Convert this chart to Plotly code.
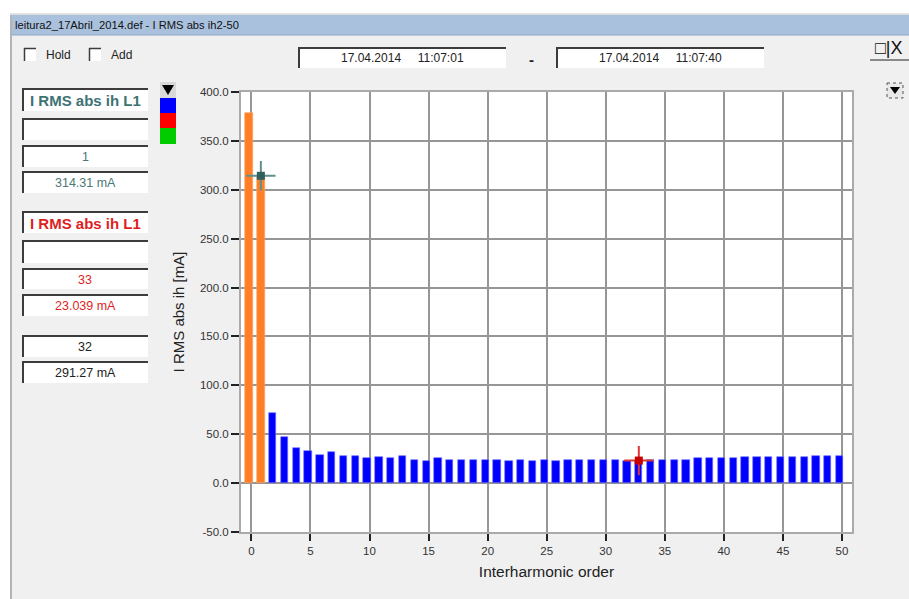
import plotly.graph_objects as go

# ---------------- data ----------------
orders = list(range(0, 51))
values = [379.0, 314.31, 72.0, 47.5, 36.0, 33.0, 29.0, 32.0, 27.8, 27.8,
          25.4, 26.5, 25.5, 27.5, 24.0, 22.7, 25.5, 24.0, 24.0, 24.0,
          24.0, 24.0, 22.7, 24.0, 22.7, 24.0, 22.7, 24.0, 24.0, 24.0,
          24.0, 24.0, 22.7, 23.039, 23.4, 24.0, 24.0, 24.0, 25.5, 25.5,
          25.5, 25.5, 26.9, 26.9, 26.9, 26.9, 26.9, 26.9, 27.9, 27.9, 27.9]
highlight_orders = [0, 1]
cursor1_order, cursor1_value = 1, 314.31
cursor2_order, cursor2_value = 33, 23.039
ref_order, ref_value = 32, 291.27
y_ticks = [-50, 0, 50, 100, 150, 200, 250, 300, 350, 400]
x_ticks = list(range(0, 51, 5))
title_text = "leitura2_17Abril_2014.def - I RMS abs ih2-50"
date_from = "17.04.2014&nbsp;&nbsp;&nbsp;&nbsp;&nbsp;11:07:01"
date_to = "17.04.2014&nbsp;&nbsp;&nbsp;&nbsp;&nbsp;11:07:40"
channel_name = "I RMS abs ih L1"

# ---------------- layout helpers ----------------
W, H = 909, 599
L, R, T, B = 241, 852, 92, 532
BAR_SHIFT = -0.2


def X(px):
    return (px - L) / (R - L)


def Y(py):
    return (B - py) / (B - T)


shapes = []
annotations = []


def rect(x0, y0, x1, y1, fill, line=None, lw=0, dash=None, layer="below"):
    d = dict(type="rect", xref="paper", yref="paper",
             x0=X(x0), x1=X(x1), y0=Y(y0), y1=Y(y1),
             fillcolor=fill, layer=layer,
             line=dict(width=lw, color=line or "rgba(0,0,0,0)"))
    if dash:
        d["line"]["dash"] = dash
    shapes.append(d)


def line(x0, y0, x1, y1, color, lw=1, layer="above"):
    shapes.append(dict(type="line", xref="paper", yref="paper",
                       x0=X(x0), x1=X(x1), y0=Y(y0), y1=Y(y1),
                       layer=layer, line=dict(color=color, width=lw)))


def path(pts, fill, layer="above"):
    p = "M " + " L ".join(f"{X(a)},{Y(b)}" for a, b in pts) + " Z"
    shapes.append(dict(type="path", xref="paper", yref="paper", path=p,
                       fillcolor=fill, line=dict(width=0), layer=layer))


def text(x, y, s, size=11, color="#222", family="Liberation Sans, Arial",
         xanchor="center", bold=False):
    if bold:
        s = "<b>" + s + "</b>"
    annotations.append(dict(xref="paper", yref="paper", x=X(x), y=Y(y),
                            text=s, showarrow=False, xanchor=xanchor,
                            yanchor="middle",
                            font=dict(size=size, color=color, family=family)))


def sunken_box(x0, y0, x1, y1, s="", color="#222", size=12.5, bold=False):
    rect(x0, y0, x1, y1, "white")
    line(x0, y0 + 1, x1, y0 + 1, "#3c3c3c", 2, layer="below")
    line(x0 + 1, y0, x0 + 1, y1, "#3c3c3c", 2, layer="below")
    if s:
        text((x0 + x1) / 2, (y0 + y1) / 2 + 1, s, size=size, color=color, bold=bold)


# window chrome
rect(0, 0, W, 14, "white")
rect(0, 0, 10, H, "white")
line(10, 14, W, 14, "#c8c8c8", 1, layer="below")
rect(10, 15, W, 35, "#a9c1dd")
line(10, 35, W, 35, "#8fa6c2", 1, layer="below")
line(11, 15, 11, H, "#b4b4b4", 2, layer="below")
text(13, 25, title_text, size=11.2, color="#111",
     family="Liberation Sans, Arial", xanchor="left")

# checkboxes
for cx, lab in [(24, "Hold"), (89, "Add")]:
    rect(cx, 48, cx + 12, 61, "white")
    line(cx, 48.5, cx + 12, 48.5, "#3c3c3c", 1.5, layer="below")
    line(cx + 0.5, 48, cx + 0.5, 61, "#3c3c3c", 1.5, layer="below")
    text(cx + 20, 55, lab, size=12, color="#222", xanchor="left")

# date boxes
sunken_box(298, 47, 506, 68, date_from, size=12)
text(531, 59, "-", size=15, bold=True)
sunken_box(556, 47, 764, 68, date_to, size=12)

# top-right window buttons
text(889, 48, "\u25a1|X", size=18, color="#111")
line(870, 60, 909, 60, "#222", 1)
rect(887, 83, 903, 98, "#e8e8e8", line="#555", lw=1, dash="dot", layer="above")
path([(890, 87), (900, 87), (895, 94)], "black")

# left panel
teal = "#3d7373"
red = "#dd1f1f"
sunken_box(22, 88, 148, 111, channel_name, color=teal, size=15, bold=True)
sunken_box(22, 118, 148, 140)
sunken_box(22, 145, 148, 167, str(cursor1_order), color="#4a7878")
sunken_box(22, 171, 148, 193, f"{cursor1_value:.2f} mA", color="#4a7878")
sunken_box(22, 211, 148, 233, channel_name, color=red, size=15, bold=True)
sunken_box(22, 240, 148, 263)
sunken_box(22, 268, 148, 289, str(cursor2_order), color=red)
sunken_box(22, 294, 148, 316, f"{cursor2_value:.3f} mA", color=red)
sunken_box(22, 335, 148, 357, str(ref_order), color="#222")
sunken_box(22, 361, 148, 383, f"{ref_value:.2f} mA", color="#222")

# color swatches
rect(160, 82, 176, 98, "#d8d8d8")
path([(162, 85), (174, 85), (168, 95)], "black")
rect(160, 98, 176, 113, "#0000ff")
rect(160, 113, 176, 128, "#ff0000")
rect(160, 128, 176, 144, "#00cc00")

# ---------------- traces ----------------
orange = "#ff7f27"
blue = "#0000ff"
colors = [orange if o in highlight_orders else blue for o in orders]
line_colors = ["#ffa060" if o in highlight_orders else "#7070ff" for o in orders]

fig = go.Figure()
fig.add_trace(go.Bar(x=orders, y=values, width=0.62, offset=BAR_SHIFT - 0.31,
                     marker=dict(color=colors, line=dict(color=line_colors, width=0.6)),
                     hoverinfo="x+y"))

for o, v, lc, sc in [(cursor1_order, cursor1_value, "#5f8f8f", "#2f5f5f"),
                     (cursor2_order, cursor2_value, "#e03535", "#c80000")]:
    fig.add_trace(go.Scatter(x=[o + BAR_SHIFT], y=[v], mode="markers",
                             marker=dict(symbol="cross-thin", size=21,
                                         line=dict(color=lc, width=2)),
                             hoverinfo="skip"))
    fig.add_trace(go.Scatter(x=[o + BAR_SHIFT], y=[v], mode="markers",
                             marker=dict(symbol="square", size=8, color=sc,
                                         line=dict(width=0)),
                             hoverinfo="skip"))

axis_font = dict(family="Liberation Sans, Arial", size=11.5, color="#333")
fig.update_layout(
    width=W, height=H,
    margin=dict(l=L, r=W - R, t=T, b=H - B, pad=0),
    paper_bgcolor="#f0f0f0",
    plot_bgcolor="white",
    showlegend=False,
    bargap=0,
    shapes=shapes,
    annotations=annotations,
    xaxis=dict(range=[-0.88, 50.85], tickvals=x_ticks, ticks="outside",
               ticklen=7, tickwidth=1.5, tickcolor="#222",
               showgrid=True, gridcolor="#969696", gridwidth=2,
               zeroline=False, showline=True, linecolor="#aaaaaa",
               linewidth=2, mirror=True, tickfont=axis_font,
               title=dict(text="Interharmonic order", standoff=10,
                          font=dict(family="Liberation Sans, Arial", size=15.5, color="#222"))),
    yaxis=dict(range=[-50, 400], tickvals=y_ticks,
               ticktext=[f"{v:.1f}" for v in y_ticks],
               ticks="outside", ticklen=8, tickwidth=1.5, tickcolor="#222",
               showgrid=True, gridcolor="#969696", gridwidth=2,
               zeroline=False, showline=True, linecolor="#aaaaaa",
               linewidth=2, mirror=True, tickfont=axis_font,
               title=dict(text="I RMS abs ih [mA]", standoff=12,
                          font=dict(family="Liberation Sans, Arial", size=15, color="#222"))),
)

fig.write_html("out.html")
